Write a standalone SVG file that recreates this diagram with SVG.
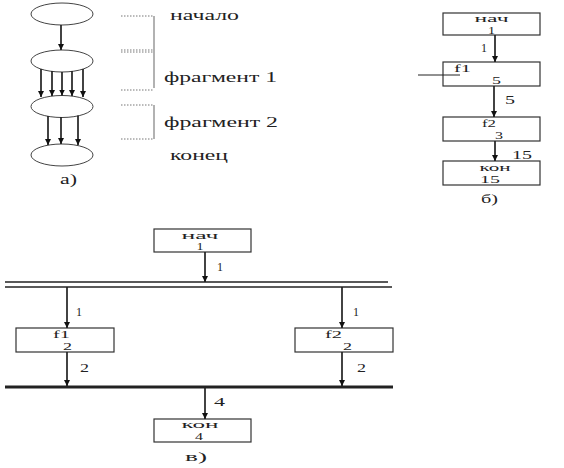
<svg xmlns="http://www.w3.org/2000/svg" width="564" height="468" viewBox="0 0 564 468">
<style>
.t{font-family:"Liberation Serif","DejaVu Serif",serif;fill:#222}
.s{font-size:12px}
.b{font-size:10.5px}
.m{font-size:14px}
.n{fill:#fff;stroke:#333;stroke-width:1.2}
.e{fill:#fff;stroke:#444;stroke-width:1}
.a{stroke:#222;stroke-width:1.7;fill:none;marker-end:url(#ah)}
.l{stroke:#222;fill:none}
.g{stroke:#999;stroke-width:1.5;fill:none}
.d{stroke:#777;stroke-width:1;stroke-dasharray:1.5 1.5;fill:none}
</style>
<defs>
<marker id="ah" markerUnits="userSpaceOnUse" markerWidth="8" markerHeight="8" refX="6" refY="3" orient="auto">
<path d="M0,0 L6,3 L0,6 z" fill="#111"/>
</marker>
</defs>

<!-- part a -->
<g id="a-ellipses">
<g id="a-start"><ellipse class="e" cx="62" cy="14" rx="31" ry="11"/></g>
<g id="a-f1"><ellipse class="e" cx="62" cy="61" rx="31" ry="11"/></g>
<g id="a-f2"><ellipse class="e" cx="62" cy="106.5" rx="31" ry="11"/></g>
<g id="a-end"><ellipse class="e" cx="62" cy="155" rx="31" ry="11"/></g>
</g>
<g id="a-brackets">
<path class="d" d="M121,16H153M121,50H153M121,52H153M121,90H153M121,105H153M121,139H153"/>
<path class="g" d="M154,16V88M154,105V139"/>
</g>
<g id="a-labels">
<text class="t m" x="170" y="20" textLength="69" lengthAdjust="spacingAndGlyphs">начало</text>
<text class="t m" x="164" y="82" textLength="113" lengthAdjust="spacingAndGlyphs">фрагмент 1</text>
<text class="t m" x="164" y="127" textLength="114" lengthAdjust="spacingAndGlyphs">фрагмент 2</text>
<text class="t m" x="170" y="160" textLength="58" lengthAdjust="spacingAndGlyphs">конец</text>
<text class="t m" x="60" y="184" textLength="17" lengthAdjust="spacingAndGlyphs">а)</text>
</g>

<!-- part b -->
<g id="b-start"><rect class="n" x="443" y="13" width="97" height="22"/>
<text class="t b" x="491.5" y="22" text-anchor="middle" textLength="34" lengthAdjust="spacingAndGlyphs">нач</text>
<text class="t b" x="491.5" y="33.5" text-anchor="middle" textLength="7" lengthAdjust="spacingAndGlyphs">1</text></g>
<g id="b-f1"><rect class="n" x="443" y="62" width="97" height="24"/>
<text class="t b" x="454" y="71.5" textLength="17" lengthAdjust="spacingAndGlyphs">f1</text>
<text class="t b" x="492" y="83.5" textLength="9" lengthAdjust="spacingAndGlyphs">5</text></g>
<g id="b-f2"><rect class="n" x="443" y="117" width="97" height="24"/>
<text class="t b" x="482" y="127" textLength="14" lengthAdjust="spacingAndGlyphs">f2</text>
<text class="t b" x="495" y="139" textLength="8" lengthAdjust="spacingAndGlyphs">3</text></g>
<g id="b-end"><rect class="n" x="443" y="161" width="97" height="24"/>
<text class="t b" x="495" y="171" text-anchor="middle" textLength="31" lengthAdjust="spacingAndGlyphs">кон</text>
<text class="t b" x="490" y="183" text-anchor="middle" textLength="20" lengthAdjust="spacingAndGlyphs">15</text></g>
<text class="t s" x="481" y="203" textLength="17" lengthAdjust="spacingAndGlyphs">б)</text>

<!-- part c -->
<g id="c-start"><rect class="n" x="154" y="229" width="97" height="23"/>
<text class="t b" x="200" y="238.5" text-anchor="middle" textLength="37" lengthAdjust="spacingAndGlyphs">нач</text>
<text class="t b" x="200" y="250" text-anchor="middle" textLength="7" lengthAdjust="spacingAndGlyphs">1</text></g>
<g id="c-f1"><rect class="n" x="16" y="328" width="98" height="24"/>
<text class="t b" x="53" y="338" textLength="17" lengthAdjust="spacingAndGlyphs">f1</text>
<text class="t b" x="63" y="349.5" textLength="9" lengthAdjust="spacingAndGlyphs">2</text></g>
<g id="c-f2"><rect class="n" x="295" y="328" width="98" height="24"/>
<text class="t b" x="325" y="338" textLength="17" lengthAdjust="spacingAndGlyphs">f2</text>
<text class="t b" x="343" y="349.5" textLength="9" lengthAdjust="spacingAndGlyphs">2</text></g>
<g id="c-end"><rect class="n" x="154" y="419" width="97" height="23"/>
<text class="t b" x="200" y="428" text-anchor="middle" textLength="37" lengthAdjust="spacingAndGlyphs">кон</text>
<text class="t b" x="199" y="439.5" text-anchor="middle" textLength="8" lengthAdjust="spacingAndGlyphs">4</text></g>
<text class="t s" x="185" y="461" textLength="22" lengthAdjust="spacingAndGlyphs">в)</text>

<g id="connectors">
<!-- a -->
<line class="a" x1="61" y1="25" x2="61" y2="50"/>
<line class="a" x1="41" y1="69" x2="41" y2="97"/>
<line class="a" x1="52" y1="71" x2="52" y2="96"/>
<line class="a" x1="62" y1="72" x2="62" y2="95.5"/>
<line class="a" x1="72" y1="71" x2="72" y2="96"/>
<line class="a" x1="83" y1="69" x2="83" y2="97"/>
<line class="a" x1="48" y1="116" x2="48" y2="145"/>
<line class="a" x1="61" y1="117" x2="61" y2="144"/>
<line class="a" x1="78" y1="115.5" x2="78" y2="145"/>
<!-- b -->
<line class="a" x1="495" y1="35" x2="495" y2="62"/>
<line class="a" x1="494" y1="86" x2="494" y2="117"/>
<line class="a" x1="495" y1="141" x2="495" y2="161"/>
<line class="l" x1="418" y1="75" x2="460" y2="75" stroke-width="1"/>
<!-- c -->
<line class="l" x1="5" y1="282" x2="388" y2="282" stroke-width="1.4"/>
<line class="l" x1="5" y1="287" x2="392" y2="287" stroke-width="1.4"/>
<line class="l" x1="5" y1="387" x2="393" y2="387" stroke-width="3"/>
<line class="a" x1="205" y1="252" x2="205" y2="282"/>
<line class="a" x1="67" y1="287" x2="67" y2="328"/>
<line class="a" x1="342" y1="287" x2="342" y2="328"/>
<line class="a" x1="67" y1="352" x2="67" y2="386"/>
<line class="a" x1="342" y1="352" x2="342" y2="386"/>
<line class="a" x1="205" y1="388" x2="205" y2="419"/>
</g>
<g id="connector-labels">
<text class="t s" x="481" y="52" textLength="6" lengthAdjust="spacingAndGlyphs">1</text>
<text class="t s" x="505" y="104" textLength="10" lengthAdjust="spacingAndGlyphs">5</text>
<text class="t s" x="512" y="159" textLength="20" lengthAdjust="spacingAndGlyphs">15</text>
<text class="t s" x="217" y="271">1</text>
<text class="t s" x="76" y="316">1</text>
<text class="t s" x="353" y="316">1</text>
<text class="t s" x="80" y="372" textLength="9" lengthAdjust="spacingAndGlyphs">2</text>
<text class="t s" x="357" y="372" textLength="9" lengthAdjust="spacingAndGlyphs">2</text>
<text class="t s" x="214" y="406" textLength="11" lengthAdjust="spacingAndGlyphs">4</text>
</g>
</svg>
